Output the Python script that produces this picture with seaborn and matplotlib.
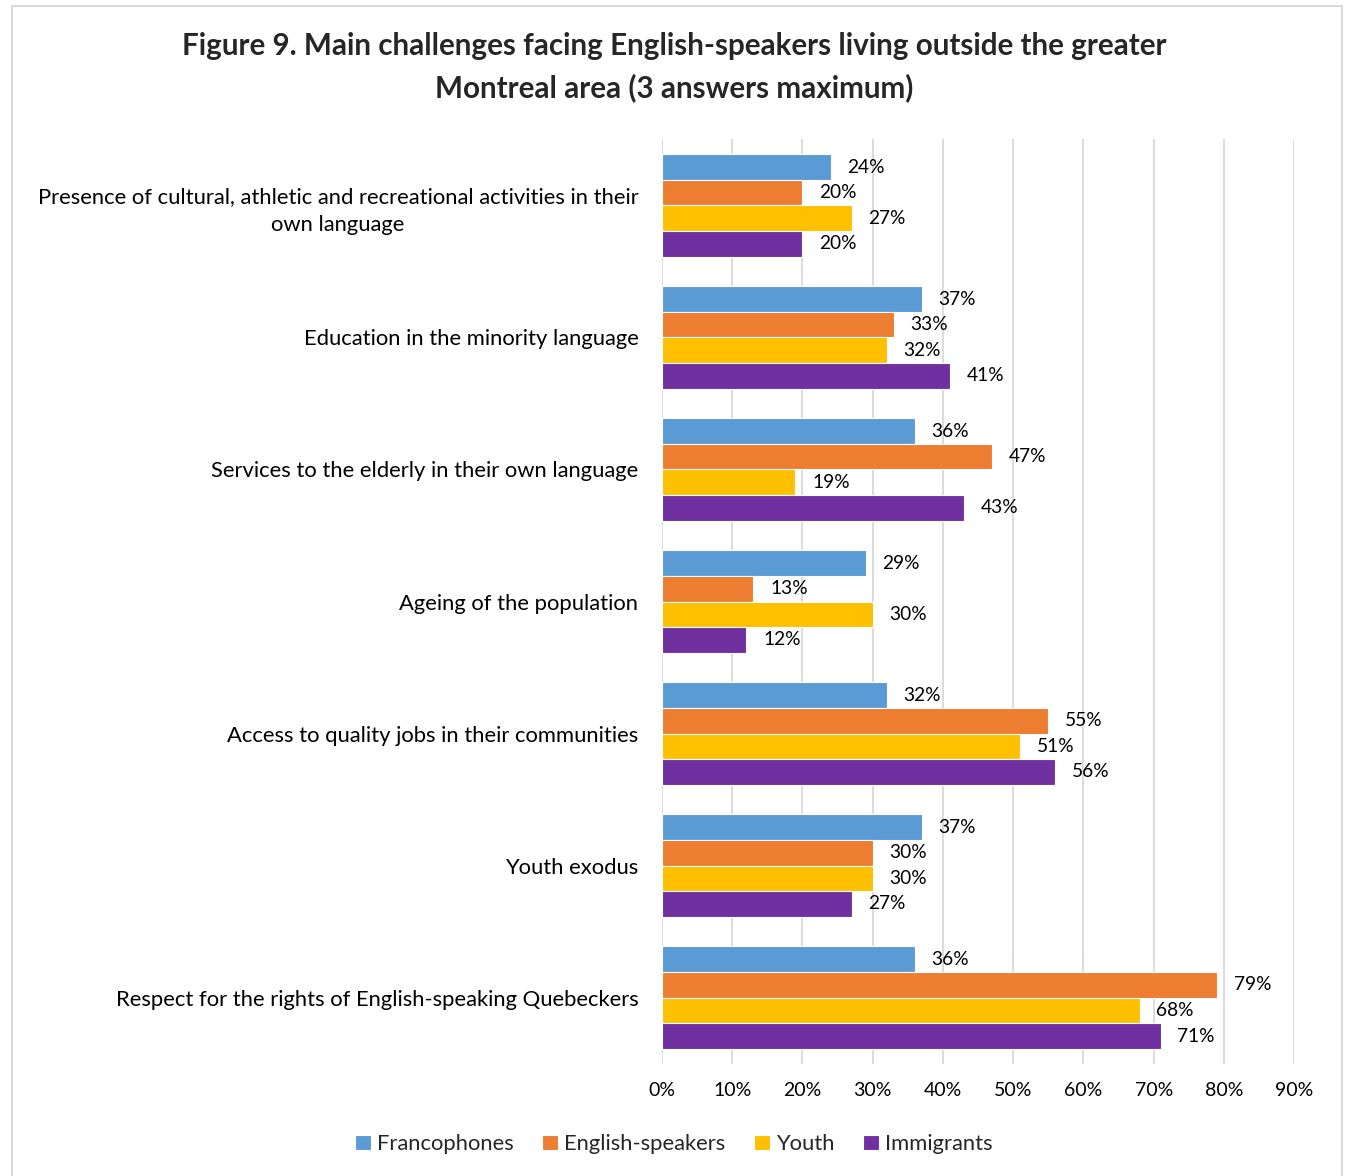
import matplotlib
matplotlib.use("Agg")
import matplotlib.pyplot as plt
import seaborn as sns
import pandas as pd
from matplotlib.patches import Rectangle
from matplotlib.ticker import FuncFormatter, MultipleLocator

categories = [
    "Presence of cultural, athletic and recreational activities in their\nown language",
    "Education in the minority language",
    "Services to the elderly in their own language",
    "Ageing of the population",
    "Access to quality jobs in their communities",
    "Youth exodus",
    "Respect for the rights of English-speaking Quebeckers",
]
series = ["Francophones", "English-speakers", "Youth", "Immigrants"]
francophones = [24, 37, 36, 29, 32, 37, 36]
english_speakers = [20, 33, 47, 13, 55, 30, 79]
youth = [27, 32, 19, 30, 51, 30, 68]
immigrants = [20, 41, 43, 12, 56, 27, 71]
colors = ["#5B9BD5", "#ED7D31", "#FFC000", "#7030A0"]

rows = []
for name, vals in zip(series, [francophones, english_speakers, youth, immigrants]):
    for cat, v in zip(categories, vals):
        rows.append({"Challenge": cat, "Group": name, "Percent": v})
df = pd.DataFrame(rows)

sns.set_theme(style="white")
plt.rcParams["font.family"] = ["Lato", "DejaVu Sans"]

fig = plt.figure(figsize=(13.48, 11.76), dpi=100)
ax = fig.add_axes([0.4911, 0.0955, 0.469, 0.786])

sns.barplot(data=df, y="Challenge", x="Percent", hue="Group", order=categories,
            hue_order=series, palette=colors, orient="h", width=0.775,
            edgecolor="white", linewidth=0.8, saturation=1, ax=ax, zorder=3)

for container in ax.containers:
    ax.bar_label(container, fmt="%d%%", padding=12, fontsize=13.8, color="#000000")

ax.set_xlim(0, 90)
ax.xaxis.set_major_locator(MultipleLocator(10))
ax.xaxis.set_major_formatter(FuncFormatter(lambda v, p: f"{v:.0f}%"))
ax.grid(axis="x", color="#D9D9D9", linewidth=1.3, zorder=0)
ax.set_axisbelow(True)
for s in ax.spines.values():
    s.set_visible(False)
ax.set_xlabel("")
ax.set_ylabel("")
ax.tick_params(axis="x", length=0, pad=13, labelsize=14, labelcolor="#000000")
ax.tick_params(axis="y", length=0, pad=17, labelsize=15.8, labelcolor="#000000")
for lbl in ax.get_yticklabels():
    lbl.set_multialignment("center")
    lbl.set_linespacing(1.45)

handles, labels = ax.get_legend_handles_labels()
ax.legend_.remove()
fig.legend(handles, labels, loc="center", bbox_to_anchor=(0.5, 0.027), ncol=4,
           frameon=False, fontsize=15.8, handlelength=0.7, handleheight=0.7,
           handletextpad=0.3, columnspacing=1.3)

fig.text(0.5, 0.943, "Figure 9. Main challenges facing English-speakers living outside the greater\nMontreal area (3 answers maximum)",
         ha="center", va="center", fontsize=21.3, fontweight="bold", linespacing=1.55)

fig.patches.append(Rectangle((12 / 1348, -0.01), 1330 / 1348, 1.0 - 6 / 1176 + 0.01,
                             transform=fig.transFigure, fill=False,
                             edgecolor="#D9D9D9", linewidth=1.5))

fig.savefig("out.png", dpi=100)
